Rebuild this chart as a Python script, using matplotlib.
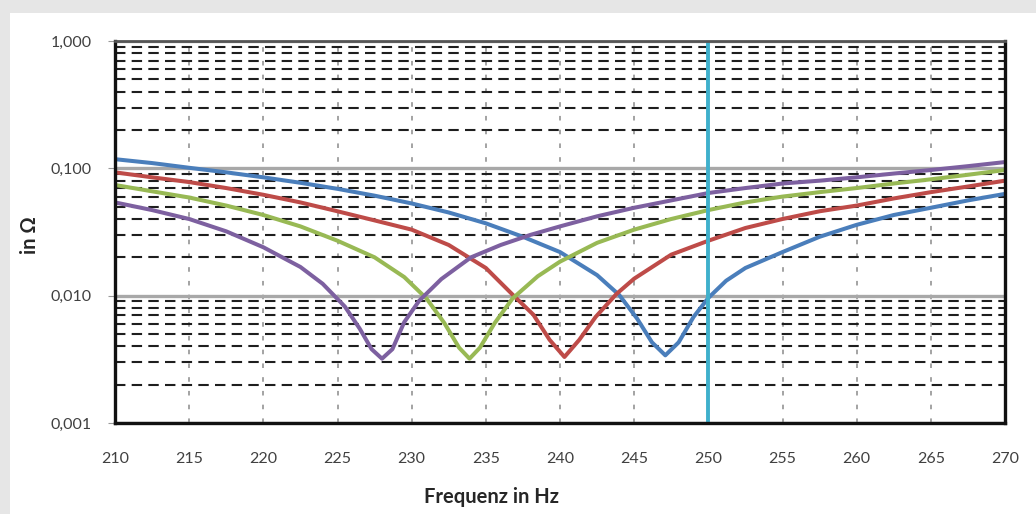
import matplotlib
matplotlib.use('Agg')
import matplotlib.pyplot as plt
from matplotlib.patches import Rectangle
from matplotlib.ticker import FixedLocator, LogLocator, FuncFormatter, NullFormatter

plt.rcParams['font.family'] = ['Lato', 'DejaVu Sans']

# impedance curves (Hz, Ohm)
freq_purple = [210, 212.5, 215, 217.5, 220, 222.5, 224, 225.5, 226.5, 227.3, 228.0, 228.7, 229.5,
               230.5, 232, 234, 236, 238, 240, 242.5, 245, 247.5, 250, 252.5, 255, 257.5, 260,
               262.5, 265, 267.5, 270]
z_purple = [0.054, 0.047, 0.040, 0.032, 0.024, 0.0168, 0.0124, 0.0082, 0.0055, 0.0038, 0.0032, 0.0038,
            0.0062, 0.0091, 0.0135, 0.020, 0.025, 0.030, 0.035, 0.042, 0.049, 0.056, 0.064, 0.070,
            0.076, 0.080, 0.085, 0.091, 0.097, 0.104, 0.112]

freq_green = [210, 212.5, 215, 217.5, 220, 222.5, 225, 227.5, 229.5, 231, 232.2, 233.2, 233.9, 234.6,
              235.6, 236.8, 238.5, 240, 242.5, 245, 247.5, 250, 252.5, 255, 257.5, 260, 262.5, 265,
              267.5, 270]
z_green = [0.074, 0.066, 0.059, 0.051, 0.043, 0.035, 0.027, 0.020, 0.0140, 0.0095, 0.0061, 0.0039,
           0.0032, 0.0039, 0.0061, 0.0095, 0.0142, 0.0185, 0.026, 0.033, 0.040, 0.047, 0.054, 0.060,
           0.065, 0.070, 0.076, 0.082, 0.089, 0.097]

freq_red = [210, 212.5, 215, 217.5, 220, 222.5, 225, 227.5, 230, 232.5, 235, 236.8, 238.2, 239.3,
            240.3, 241.3, 242.4, 243.8, 245, 247.5, 250, 252.5, 255, 257.5, 260, 262.5, 265, 267.5, 270]
z_red = [0.093, 0.085, 0.078, 0.070, 0.062, 0.054, 0.046, 0.039, 0.033, 0.025, 0.0165, 0.0102, 0.0071,
         0.0045, 0.0033, 0.0045, 0.0068, 0.0103, 0.0136, 0.021, 0.027, 0.034, 0.040, 0.046, 0.051,
         0.058, 0.065, 0.072, 0.080]

freq_blue = [210, 212.5, 215, 217.5, 220, 222.5, 225, 227.5, 230, 232.5, 235, 237.5, 240, 242.5, 244,
             245.2, 246.2, 247.1, 248.0, 249, 250, 251.2, 252.5, 255, 257.5, 260, 262.5, 265, 267.5, 270]
z_blue = [0.118, 0.110, 0.101, 0.093, 0.085, 0.077, 0.069, 0.061, 0.053, 0.045, 0.037, 0.029, 0.022,
          0.0145, 0.0101, 0.0066, 0.0043, 0.0034, 0.0043, 0.0068, 0.0096, 0.0131, 0.0165, 0.022,
          0.029, 0.036, 0.043, 0.049, 0.056, 0.063]

f_marker = 250
x_ticks = list(range(210, 271, 5))
y_ticks = [0.001, 0.01, 0.1, 1.0]

fig = plt.figure(figsize=(10.36, 5.14), dpi=100, facecolor='#e6e6e6')
fig.patches.append(Rectangle((10 / 1036, 0), 1, 1 - 13 / 514, transform=fig.transFigure,
                             facecolor='white', edgecolor='none', zorder=-10))
ax = fig.add_axes([115 / 1036, 1 - 423 / 514, (1005 - 115) / 1036, (423 - 41) / 514])
ax.set_yscale('log')
ax.set_xlim(210, 270)
ax.set_ylim(0.001, 1.0)

ax.yaxis.set_major_locator(FixedLocator(y_ticks))
ax.yaxis.set_minor_locator(LogLocator(base=10, subs=range(2, 10)))
ax.yaxis.set_minor_formatter(NullFormatter())
ax.yaxis.set_major_formatter(FuncFormatter(lambda v, p: ('%.3f' % v).replace('.', ',')))
ax.xaxis.set_major_locator(FixedLocator(x_ticks))

ax.grid(which='major', axis='y', color='#a8a8a8', lw=2.4, ls='-')
ax.grid(which='minor', axis='y', color='#1e1e1e', lw=1.5, ls=(0, (5, 3)))
ax.grid(which='major', axis='x', color='#8a8a8a', lw=1.1, ls=(0, (3, 6)))
ax.set_axisbelow(True)

style = dict(lw=2.9, solid_capstyle='round', solid_joinstyle='round')
ax.plot(freq_blue, z_blue, color='#4a7ebb', **style)
ax.plot(freq_red, z_red, color='#be4b48', **style)
ax.plot(freq_green, z_green, color='#98b954', **style)
ax.plot(freq_purple, z_purple, color='#7d60a0', **style)
ax.axvline(f_marker, color='#3fb0cc', lw=2.8)

for side in ['left', 'bottom', 'right']:
    ax.spines[side].set_color('#111111')
    ax.spines[side].set_linewidth(2.4)
ax.spines['top'].set_color('#555555')
ax.spines['top'].set_linewidth(2.0)

ax.tick_params(axis='y', which='major', length=5, color='#999999', pad=12, labelsize=11.5,
               labelcolor='#404040')
ax.tick_params(axis='y', which='minor', length=0)
ax.tick_params(axis='x', which='major', length=0, pad=21, labelsize=11.5, labelcolor='#404040')

fig.text(492 / 1036, 1 - 497 / 514, 'Frequenz in Hz', ha='center', va='center', fontsize=14.5,
         fontweight='bold', color='#262626')
fig.text(30 / 1036, 1 - 235 / 514, 'in Ω', ha='center', va='center', rotation=90, fontsize=14.5,
         fontweight='bold', color='#262626')

fig.savefig('out.png', dpi=100, facecolor=fig.get_facecolor())
